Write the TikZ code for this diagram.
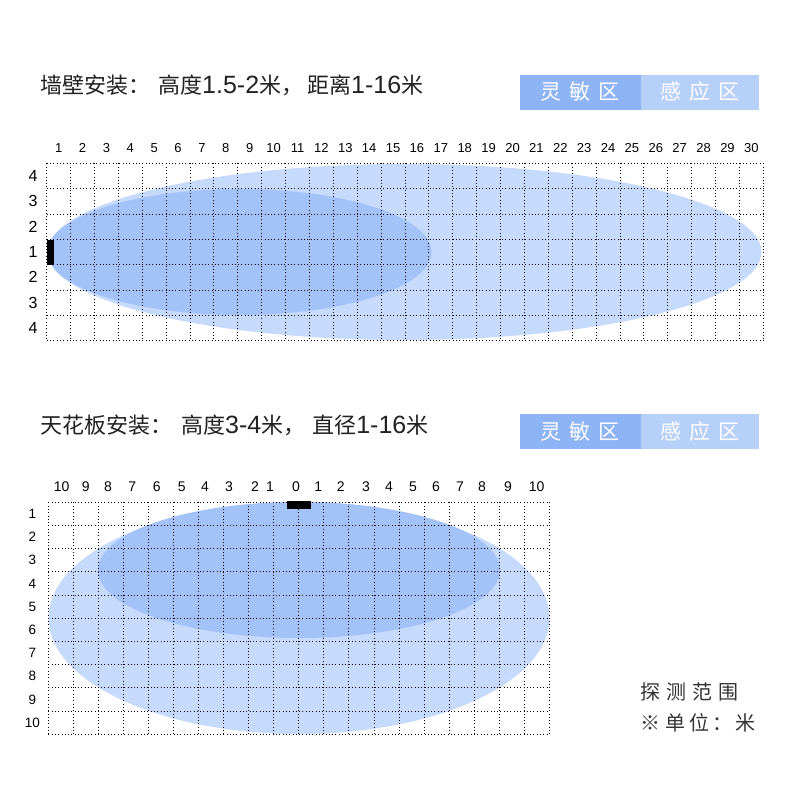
\documentclass[tikz,border=0pt]{standalone}
\usepackage{fontspec}
\setmainfont{Noto Sans CJK SC}
\newfontfamily\arialf{Liberation Sans}
\definecolor{lightb}{HTML}{C6DAFB}
\definecolor{darkb}{HTML}{A3C2F8}
\definecolor{legd}{HTML}{8EB4F6}
\definecolor{legl}{HTML}{B7D0FA}
\definecolor{titlec}{HTML}{222222}
\definecolor{notec}{HTML}{333333}
\newcommand{\dg}[1]{{\arialf\fontsize{25}{27}\selectfont #1}}
\begin{document}
\begin{tikzpicture}[x=1pt,y=-1pt,
  gridline/.style={line width=0.9pt, dash pattern=on 1pt off 2.3pt, black},
  titletext/.style={anchor=west, inner sep=0pt, text=titlec, font=\fontsize{22}{24}\selectfont},
  legbox/.style={anchor=north west, inner sep=0pt, minimum height=35pt, minimum width=120pt, text=white, font=\fontsize{21}{23}\selectfont},
  collab/.style={inner sep=0pt, text=black, font=\arialf\fontsize{13}{15}\selectfont},
  rowlab/.style={inner sep=0pt, text=black, font=\arialf\fontsize{16}{18}\selectfont},
  collabb/.style={inner sep=0pt, text=black, font=\arialf\fontsize{14}{16}\selectfont},
  rowlabb/.style={inner sep=0pt, text=black, font=\arialf\fontsize{13.5}{15}\selectfont},
  note/.style={anchor=west, inner sep=0pt, text=notec, font=\fontsize{20}{22}\selectfont}]
\useasboundingbox (0,0) rectangle (800,800);
\fill[white] (0,0) rectangle (800,800);

% ---------- top section ----------
\node[titletext] (t1) at (40,85) {墙壁安装：\hspace{8pt}高度\dg{1.5-2}米，\hspace{4pt}距离\dg{1-16}米};
\node[legbox, fill=legd, minimum width=121.7pt] (l1) at (519.3,74.3) {灵\hspace{8pt}敏\hspace{8pt}区};
\node[legbox, fill=legl, minimum width=118pt] (l2) at (641,74.3) {感\hspace{8pt}应\hspace{8pt}区};

\fill[lightb] (404.5,252) ellipse [x radius=357, y radius=88];
\fill[darkb] (239.5,252) ellipse [x radius=192, y radius=63];

\foreach \i in {0,...,30}
  \draw[gridline] (46.7+\i*23.887,163.3) -- (46.7+\i*23.887,340.7);
\foreach \j in {0,...,7}
  \draw[gridline] (46.7,163.3+\j*25.343) -- (763.3,163.3+\j*25.343);

\foreach \i in {1,...,30}
  \node[collab] (c\i) at (46.7+\i*23.887-11.94,148) {\i};
\foreach \lab [count=\j] in {4,3,2,1,2,3,4}
  \node[rowlab] (r\j) at (33,163.3+\j*25.343-12.67) {\lab};

\fill[black] (47,239.5) rectangle (53.5,264.5);

% ---------- bottom section ----------
\node[titletext] (t2) at (40,425) {天花板安装：\hspace{9pt}高度\dg{3-4}米，\hspace{7pt}直径\dg{1-16}米};
\node[legbox, fill=legd, minimum width=121.7pt] (l3) at (519.3,414) {灵\hspace{8pt}敏\hspace{8pt}区};
\node[legbox, fill=legl, minimum width=118pt] (l4) at (641,414) {感\hspace{8pt}应\hspace{8pt}区};

\fill[lightb] (299,618) ellipse [x radius=250.5, y radius=116];
\fill[darkb] (299,570) ellipse [x radius=201, y radius=68];

\foreach \i in {0,...,20}
  \draw[gridline] (48.3+\i*25.05,502.3) -- (48.3+\i*25.05,734.3);
\foreach \j in {0,...,10}
  \draw[gridline] (48.3,502.3+\j*23.2) -- (549.3,502.3+\j*23.2);

\foreach \lab/\xx [count=\k] in {10/61.7,9/85.7,8/108,7/132.3,6/156.7,5/181.7,4/205,3/229,2/255,1/270,0/296,1/318.3,2/340.7,3/366,4/389,5/413,6/436,7/460,8/482,9/508,10/536.7}
  \node[collabb] (b\k) at (\xx,487) {\lab};
\foreach \j in {1,...,10}
  \node[rowlabb] (s\j) at (32.5,502.3+\j*23.2-11.6) {\j};

\fill[black] (287,501) rectangle (311,508.5);

\node[note] (n1) at (640,691.7) {探\hspace{6pt}测\hspace{6pt}范\hspace{6pt}围};
\node[note] (n2) at (640,723) {※\hspace{5pt}单\hspace{4pt}位\hspace{3pt}：\hspace{3pt}米};
\end{tikzpicture}
\end{document}
